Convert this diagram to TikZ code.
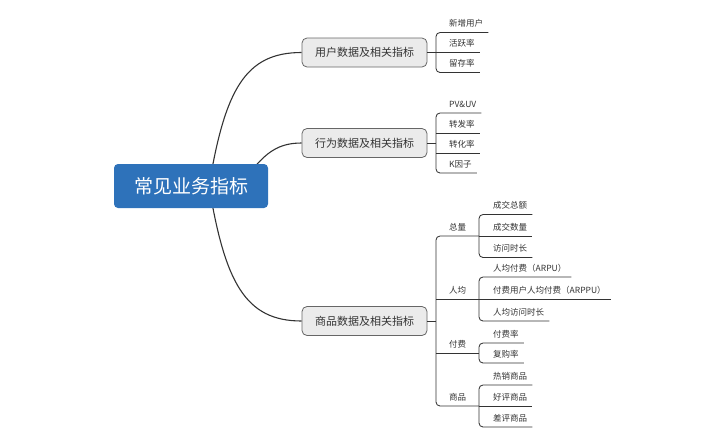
\documentclass[tikz,border=0pt]{standalone}
\usepackage{fontspec}
\setmainfont{Noto Sans CJK SC}
\usetikzlibrary{backgrounds,calc}
\definecolor{rootblue}{HTML}{2E72BA}
\definecolor{linegray}{HTML}{333333}
\definecolor{boxborder}{HTML}{666666}
\definecolor{boxfill}{HTML}{EBEBEB}
\definecolor{txtgray}{HTML}{333333}
\begin{document}
\begin{tikzpicture}[x=1pt,y=-1pt,
  ln/.style={draw=linegray,line width=0.85pt},
  curveln/.style={draw=linegray,line width=1.1pt},
  rootbox/.style={rectangle,rounded corners=4pt,fill=rootblue,text=white,minimum width=154pt,minimum height=44pt,inner sep=0pt,font=\fontsize{19}{19}\selectfont},
  branchbox/.style={rectangle,rounded corners=5pt,draw=boxborder,fill=boxfill,line width=0.8pt,minimum width=125pt,minimum height=29pt,inner sep=0pt,text=txtgray,font=\fontsize{11}{11}\selectfont},
  leaf/.style={anchor=south west,inner xsep=0pt,inner ysep=0pt,text height=7.5pt,text depth=5.8pt,text=txtgray,font=\fontsize{8.5}{8.5}\selectfont},
  bracket/.style={ln,rounded corners=4pt}
]
\useasboundingbox (0,0) rectangle (720,445);

% root and main branches
\node[rootbox] (root) at (191,186) {常见业务指标};
\node[branchbox] (b1) at (364.5,52.5) {用户数据及相关指标};
\node[branchbox] (b2) at (364.5,143) {行为数据及相关指标};
\node[branchbox] (b3) at (364.5,321) {商品数据及相关指标};

\begin{pgfonlayer}{background}
\draw[curveln] ($(root.center)+(18,0)$) .. controls (225,90) and (245,52.5) .. (b1.west);
\draw[curveln] ($(root.center)+(44,9)$) .. controls (260,155) and (275,143) .. (b2.west);
\draw[curveln] ($(root.center)+(18,0)$) .. controls (225,282) and (245,321) .. (b3.west);
\end{pgfonlayer}

% bracket coordinates
\coordinate (k1) at (436,52.5);
\coordinate (k2) at (436,143);
\coordinate (k3) at (436,321);

% branch 1 children
\node[leaf] (c11) at (449,32.5) {新增用户};
\node[leaf] (c12) at (449,52.5) {活跃率};
\node[leaf] (c13) at (449,72.5) {留存率};
\draw[ln] (b1.east) -- ([xshift=5pt]c12.south east);
\draw[bracket] ([xshift=5pt]c11.south east) -- (c11.south -| k1) -- (c13.south -| k1) -- ([xshift=5pt]c13.south east);

% branch 2 children
\node[leaf] (c21) at (449,113) {PV\&UV};
\node[leaf] (c22) at (449,133) {转发率};
\node[leaf] (c23) at (449,153) {转化率};
\node[leaf] (c24) at (449,173) {K因子};
\draw[ln] (b2.east) -- (k2);
\draw[bracket] ([xshift=5pt]c21.south east) -- (c21.south -| k2) -- (c24.south -| k2) -- ([xshift=5pt]c24.south east);
\draw[ln] (c22.south -| k2) -- ([xshift=5pt]c22.south east);
\draw[ln] (c23.south -| k2) -- ([xshift=5pt]c23.south east);

% branch 3 children
\node[leaf] (zl) at (449,236) {总量};
\node[leaf] (rj) at (449,299) {人均};
\node[leaf] (ff) at (449,353) {付费};
\node[leaf] (sp) at (449,406) {商品};
\coordinate (kzl) at (479,236);
\coordinate (krj) at (479,299);
\coordinate (kff) at (479,353);
\coordinate (ksp) at (479,406);
\draw[ln] (b3.east) -- (k3);
\draw[bracket] (kzl) -- (zl.south -| k3) -- (sp.south -| k3) -- (ksp);
\draw[ln] (rj.south -| k3) -- (krj);
\draw[ln] (ff.south -| k3) -- (kff);

% 总量
\node[leaf] (g11) at (493,214.5) {成交总额};
\node[leaf] (g12) at (493,236) {成交数量};
\node[leaf] (g13) at (493,257.5) {访问时长};
\draw[bracket] ([xshift=5pt]g11.south east) -- (g11.south -| kzl) -- (g13.south -| kzl) -- ([xshift=5pt]g13.south east);
\draw[ln] (kzl) -- ([xshift=5pt]g12.south east);

% 人均
\node[leaf] (g21) at (493,277) {人均付费（ARPU）};
\node[leaf] (g22) at (493,299) {付费用户人均付费（ARPPU）};
\node[leaf] (g23) at (493,321) {人均访问时长};
\draw[bracket] ([xshift=5pt]g21.south east) -- (g21.south -| krj) -- (g23.south -| krj) -- ([xshift=5pt]g23.south east);
\draw[ln] (krj) -- ([xshift=5pt]g22.south east);

% 付费
\node[leaf] (g31) at (493,343) {付费率};
\node[leaf] (g32) at (493,363) {复购率};
\draw[bracket] ([xshift=5pt]g31.south east) -- (g31.south -| kff) -- (g32.south -| kff) -- ([xshift=5pt]g32.south east);

% 商品
\node[leaf] (g41) at (493,385) {热销商品};
\node[leaf] (g42) at (493,406) {好评商品};
\node[leaf] (g43) at (493,427) {差评商品};
\draw[bracket] ([xshift=5pt]g41.south east) -- (g41.south -| ksp) -- (g43.south -| ksp) -- ([xshift=5pt]g43.south east);
\draw[ln] (ksp) -- ([xshift=5pt]g42.south east);
\end{tikzpicture}
\end{document}
